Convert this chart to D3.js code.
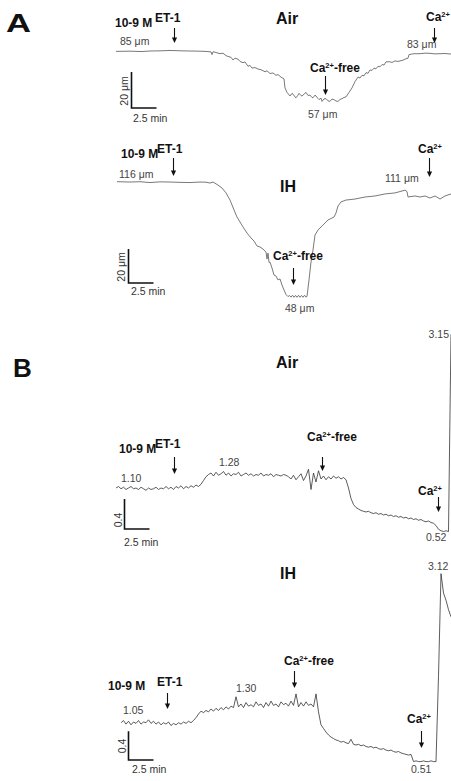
<!DOCTYPE html>
<html>
<head>
<meta charset="utf-8">
<script src="https://cdn.jsdelivr.net/npm/d3@7"></script>
<style>
  body { margin: 0; background: #fff; }
  svg { display: block; font-family: Arial, "Liberation Sans", sans-serif; }
</style>
</head>
<body>
<svg id="fig" width="451" height="781"></svg>
<script>
// ---------------- data ----------------
// time axis shared by all four recordings (minutes)
const timeDomain = [0, 33.5];
const scaleBarMinutes = 2.5;

// A: vessel diameter (μm), [time (min), diameter]
const airDiameter = [
  [0,84.8],[1.4,84.9],[2.6,84.7],[3.4,85],[4.5,85.1],[5.4,85.3],[6.5,85.1],[7.4,85],[8.3,84.9],[8.9,84.8],
  [9.5,84.5],[9.6,83],[9.7,84.6],[10.1,84],[10.4,83.5],[10.7,83.8],[11.0,82.4],[11.2,82],[11.5,81.5],[11.7,80],
  [11.9,81],[12.2,80.5],[12.4,79.2],[12.7,78.5],[12.9,78.9],[13.2,76.5],[13.4,77],[13.6,75.5],[13.9,75.8],[14.2,75],
  [14.5,74.6],[14.9,73.5],[15.1,74],[15.4,72.5],[15.7,72.8],[16.0,71.5],[16.2,71.9],[16.5,70.5],[16.8,69.5],[16.9,64.5],
  [17.1,62],[17.4,60],[17.6,61.5],[17.7,61],[17.9,59.5],[18.0,59],[18.2,60.5],[18.3,61.5],[18.5,60.2],[18.6,60],
  [18.8,61],[19.0,62],[19.2,60.3],[19.4,60.5],[19.6,59.2],[19.7,59],[19.9,60.5],[20.0,60],[20.2,58.6],[20.3,58],
  [20.5,58.8],[20.6,57],[20.8,58.4],[21.0,58.5],[21.2,57.3],[21.4,57],[21.6,58.3],[21.8,58],[22.0,57.2],[22.2,57],
  [22.4,58.1],[22.6,58.5],[22.8,59.2],[23.0,59.5],[23.3,62],[23.6,64.5],[23.9,68],[24.2,70.5],[24.4,70],[24.6,71.5],
  [24.8,71.2],[25.0,73],[25.2,72.6],[25.4,74.5],[25.6,74.2],[25.8,75.5],[26.0,75.1],[26.2,76.5],[26.4,76.2],[26.6,77.5],
  [26.8,77.2],[27.0,79],[27.4,79],[27.6,78.6],[27.9,79.5],[28.2,79.2],[28.4,79.5],[28.7,79.9],[28.9,80.5],[29.2,81],
  [29.3,83],[29.8,83.5],[30.4,83.5],[30.9,83.8],[31.4,83.7],[31.9,83.4],[32.4,83.5],[32.9,83.6],[33.5,83.3]
];
const ihDiameter = [
  [0.1,116],[1.4,115.8],[2.4,116],[3.4,115.5],[4.4,115.9],[5.4,115.8],[6.4,115.6],[7.4,115.5],[8.4,115.8],[9.0,115.7],
  [9.4,115.2],[9.7,115.8],[10.2,114],[10.6,112.3],[11.0,109.4],[11.4,105.2],[11.8,99.4],[12.1,95.2],[12.4,92.3],[12.7,89.4],
  [13.1,85.8],[13.5,82.9],[13.8,81.1],[14.1,78.2],[14.4,77.6],[14.7,76.4],[15.0,74.6],[15.1,70.5],[15.2,74],[15.3,68.5],
  [15.4,68.7],[15.6,65.2],[15.8,61.1],[16.0,60.5],[16.2,58.2],[16.4,58.8],[16.6,55.2],[16.8,52.3],[17.0,49.6],[17.2,48.4],
  [17.35,49.1],[17.5,48.1],[17.65,49.2],[17.8,48],[17.95,49.1],[18.1,48],[18.25,49.2],[18.4,48],[18.55,49.1],[18.7,48],
  [18.85,49.2],[19.0,48.1],[19.1,48.5],[19.3,58.2],[19.5,68.7],[19.7,75.8],[19.9,84.6],[20.2,87.6],[20.6,89.9],[21.2,93.5],
  [21.8,95.2],[22.0,97.6],[22.2,101.7],[22.5,104.1],[23.0,105.2],[23.9,105.8],[24.9,107],[25.9,107.6],[26.9,108.8],[27.9,109.4],
  [28.9,111],[29.1,110.2],[29.2,107],[29.9,107.6],[30.4,107],[30.9,107.6],[31.4,106.4],[31.9,107.6],[32.4,105.8],[32.9,107.6],
  [33.5,108.8]
];
const diameterMarks = { air: [85, 57, 83], ih: [116, 48, 111] };

// B: fluorescence ratio, sampled every ratioStep minutes
const ratioStep = 0.25;
const airRatioStart = 0;
const airRatio = [
  1.10,1.12,1.09,1.11,1.08,1.10,1.12,1.09,1.10,1.08,1.11,1.09,1.07,1.10,1.08,1.09,1.11,1.08,1.10,1.09,
  1.12,1.09,1.11,1.08,1.12,1.10,1.13,1.09,1.12,1.10,1.13,1.11,1.14,1.12,
  1.15,1.20,1.25,1.28,
  1.30,1.26,1.31,1.27,1.29,1.32,1.27,1.30,1.26,1.29,1.28,1.31,1.26,1.28,1.30,1.27,1.29,1.26,1.28,1.27,
  1.30,1.26,1.28,1.27,1.29,1.25,1.28,1.27,1.26,1.28,1.27,1.25,
  1.22,1.27,1.21,1.25,1.29,1.20,1.26,1.35,1.08,1.30,1.18,1.33,1.22,1.26,1.21,1.25,1.22,1.26,1.23,1.25,1.22,1.24,
  1.21,1.10,0.96,0.88,0.84,
  0.82,0.80,0.79,0.78,0.79,0.77,0.76,0.77,0.75,0.76,0.74,0.75,0.73,0.74,0.72,0.73,0.71,0.72,0.70,0.71,
  0.69,0.70,0.68,0.69,0.67,0.68,0.66,0.65,0.66,0.64,0.63,0.60,0.55,0.53,0.52,0.53,0.52,
  3.15
];
const ihRatioStart = 0.5;
const ihRatio = [
  1.05,1.08,1.03,1.07,1.02,1.06,1.04,1.08,1.03,1.06,1.05,1.09,1.04,1.07,1.03,1.06,1.02,1.05,1.03,1.06,
  1.01,1.04,1.02,1.05,1.03,1.06,1.04,1.07,1.05,1.08,
  1.12,1.17,1.21,1.19,1.22,1.20,1.24,1.21,1.25,1.22,1.26,1.23,1.27,1.24,1.28,1.26,
  1.41,1.27,1.31,1.26,1.33,1.28,1.30,1.27,1.34,1.29,1.31,1.26,1.33,1.28,1.35,1.29,1.31,1.27,1.34,1.30,
  1.32,1.28,1.35,1.29,1.45,1.27,1.33,1.28,1.34,1.29,1.31,1.27,1.45,
  1.20,1.02,0.97,0.92,0.88,0.85,0.83,0.81,
  0.80,0.78,0.79,0.77,0.76,0.82,0.75,0.74,0.75,0.73,0.74,0.72,0.71,0.72,0.70,0.71,0.69,0.68,0.69,0.67,
  0.66,0.67,0.65,0.64,0.65,0.63,0.62,0.61,0.60,0.61,
  0.51,0.52,0.51,0.51,0.52,0.51,0.51,0.52,0.51,0.51,
  1.70,3.12,2.85,2.75,2.62,2.52
];
const ratioMarks = { air: [1.10, 1.28, 0.52, 3.15], ih: [1.05, 1.30, 0.51, 3.12] };

// times (min) at which each solution was applied
const eventTimes = {
  aAir: { et1: 5.8, caFree: 20.9, ca: 31.8 },
  aIH:  { et1: 5.7, caFree: 17.7, ca: 31.3 },
  bAir: { et1: 5.8, caFree: 20.6, ca: 32.2 },
  bIH:  { et1: 5.1, caFree: 17.8, ca: 30.5 }
};

// ---------------- drawing ----------------
const svg = d3.select('#fig');
const x = d3.scaleLinear().domain(timeDomain).range([116, 451]);
const minPx = x(1) - x(0);

function yScale(refVal, refY, pxPerUnit) {
  return d3.scaleLinear().domain([refVal, refVal - 1]).range([refY, refY + pxPerUnit]);
}
const regular = (vals, start) => vals.map((v, i) => [start + i * ratioStep, v]);
const fmtRatio = d3.format('.2f');

function trace(data, y, color, width) {
  svg.append('path')
    .datum(data)
    .attr('fill', 'none')
    .attr('stroke', color)
    .attr('stroke-width', width)
    .attr('stroke-linejoin', 'round')
    .attr('d', d3.line().x(d => x(d[0])).y(d => y(d[1])));
}

function arrow(t, y1, y2) {
  const xp = Math.round(x(t)) + 0.5;
  svg.append('line').attr('x1', xp).attr('x2', xp).attr('y1', y1).attr('y2', y2 - 4)
    .attr('stroke', '#111').attr('stroke-width', 1.1);
  svg.append('path')
    .attr('d', `M${xp - 2.6},${y2 - 5.5}L${xp + 2.6},${y2 - 5.5}L${xp},${y2}Z`)
    .attr('fill', '#111');
}

function bold(str, px, py, size = 12, anchor = 'start') {
  return svg.append('text').attr('x', px).attr('y', py)
    .attr('font-size', size).attr('font-weight', 'bold').attr('fill', '#111')
    .attr('text-anchor', anchor).text(str);
}

function calcium(px, py, suffix) {
  const t = svg.append('text').attr('x', px).attr('y', py)
    .attr('font-size', 12).attr('font-weight', 'bold').attr('fill', '#111');
  t.append('tspan').text('Ca');
  t.append('tspan').attr('font-size', 7.5).attr('dy', -4.5).text('2+');
  if (suffix) t.append('tspan').attr('dy', 4.5).text(suffix);
}

function valueLabel(str, px, py, anchor = 'start') {
  svg.append('text').attr('x', px).attr('y', py).attr('text-anchor', anchor)
    .attr('font-size', 10.5).attr('fill', '#444').text(str);
}

function scaleBar(t0, bottom, height, vLabel, labelY, textX, minLabelX, minLabelY) {
  const x0 = Math.round(x(t0)) + 0.5;
  svg.append('path')
    .attr('d', `M${x0},${bottom - height}V${bottom}H${x0 + scaleBarMinutes * minPx}`)
    .attr('fill', 'none').attr('stroke', '#111').attr('stroke-width', 1.6);
  svg.append('text')
    .attr('transform', `translate(${textX},${labelY}) rotate(-90)`)
    .attr('text-anchor', 'middle').attr('font-size', 10.5).attr('fill', '#333')
    .text(vLabel);
  svg.append('text').attr('x', minLabelX).attr('y', minLabelY)
    .attr('font-size', 10.5).attr('fill', '#333').text(scaleBarMinutes + ' min');
}

// panel letters
svg.append('text').attr('x', 6).attr('y', 32).attr('font-size', 26).attr('font-weight', 'bold')
  .attr('textLength', 25).attr('lengthAdjust', 'spacingAndGlyphs').attr('fill', '#111').text('A');
svg.append('text').attr('x', 13).attr('y', 377).attr('font-size', 26).attr('font-weight', 'bold')
  .attr('fill', '#111').text('B');

// ---- A, Air ----
{
  const y = yScale(85, 51, 1.8);
  trace(airDiameter, y, '#6a6a6a', 0.9);
  const [start, trough, end] = diameterMarks.air;
  bold('10-9 M', 115, 27);
  bold('ET-1', 155, 22);
  bold('Air', 287, 24, 16, 'middle');
  calcium(426, 21);
  arrow(eventTimes.aAir.et1, 28, 43);
  arrow(eventTimes.aAir.ca, 28, 43);
  valueLabel(start + ' μm', 120, 45);
  valueLabel(end + ' μm', 407, 48);
  calcium(310, 72, '-free');
  arrow(eventTimes.aAir.caFree, 76, 95);
  valueLabel(trough + ' μm', 308, 118);
  scaleBar(1.5, 108, y(0) - y(20), '20 μm', 91, 128, 133, 122);
}

// ---- A, IH ----
{
  const y = yScale(116, 181.7, 1.7);
  trace(ihDiameter, y, '#6a6a6a', 0.9);
  const [start, trough, end] = diameterMarks.ih;
  bold('10-9 M', 121, 158);
  bold('ET-1', 157, 153);
  bold('IH', 288, 192, 16, 'middle');
  calcium(418, 153);
  arrow(eventTimes.aIH.et1, 158, 176);
  arrow(eventTimes.aIH.ca, 158, 177);
  valueLabel(start + ' μm', 119, 178);
  valueLabel(end + ' μm', 385, 182);
  calcium(273, 260, '-free');
  arrow(eventTimes.aIH.caFree, 268, 285);
  valueLabel(trough + ' μm', 285, 312);
  scaleBar(1.2, 283, y(0) - y(20), '20 μm', 267, 125, 131, 295);
}

// ---- B, Air ----
{
  const y = yScale(1.10, 488, 75);
  trace(regular(airRatio, airRatioStart), y, '#333', 0.8);
  const [base, plateau, low, peak] = ratioMarks.air;
  bold('Air', 287, 368, 16, 'middle');
  bold('10-9 M', 119, 453);
  bold('ET-1', 155, 448);
  arrow(eventTimes.bAir.et1, 457, 474);
  valueLabel(fmtRatio(base), 121, 482);
  valueLabel(fmtRatio(plateau), 219, 466);
  calcium(307, 441, '-free');
  arrow(eventTimes.bAir.caFree, 457, 471);
  calcium(418, 495);
  arrow(eventTimes.bAir.ca, 497, 512);
  valueLabel(fmtRatio(low), 426, 541);
  valueLabel(fmtRatio(peak), 449, 338, 'end');
  scaleBar(0.8, 529, y(0) - y(0.4), '0.4', 520, 122, 124, 546);
}

// ---- B, IH ----
{
  const y = yScale(1.05, 722.7, 72);
  trace(regular(ihRatio, ihRatioStart), y, '#333', 0.8);
  const [base, plateau, low, peak] = ratioMarks.ih;
  bold('IH', 288, 579, 16, 'middle');
  bold('10-9 M', 108, 690);
  bold('ET-1', 157, 686);
  arrow(eventTimes.bIH.et1, 693, 709);
  valueLabel(fmtRatio(base), 123, 714);
  valueLabel(fmtRatio(plateau), 236, 692);
  calcium(284, 665, '-free');
  arrow(eventTimes.bIH.caFree, 671, 688);
  calcium(407, 723);
  arrow(eventTimes.bIH.ca, 731, 748);
  valueLabel(fmtRatio(low), 411, 773);
  valueLabel(fmtRatio(peak), 428, 570);
  scaleBar(1.2, 760, y(0) - y(0.4), '0.4', 746, 126, 132, 773);
}
</script>
</body>
</html>
